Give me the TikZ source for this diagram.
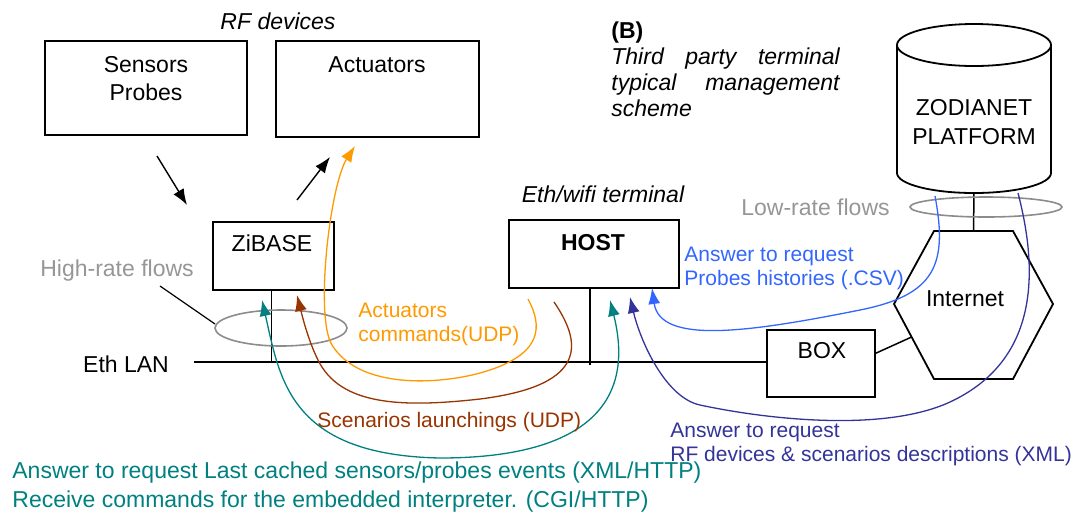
\documentclass[tikz,border=0pt]{standalone}
\usepackage{fontspec}
\setmainfont{Liberation Sans}
\usepackage{tikz}
\usetikzlibrary{arrows.meta}
\usetikzlibrary{positioning}
\usetikzlibrary{calc}
\definecolor{flowgrey}{HTML}{969696}
\definecolor{ringgrey}{HTML}{8C8C8C}
\definecolor{actorange}{HTML}{FF9900}
\definecolor{scenbrown}{HTML}{993300}
\definecolor{httpteal}{HTML}{008080}
\definecolor{xmlnavy}{HTML}{333399}
\definecolor{csvblue}{HTML}{3366FF}
\tikzset{
	devbox/.style={draw=black, line width=0.9pt, inner sep=0pt},
	rfarrow/.style={draw=black, line width=0.7pt, ->},
	lanline/.style={draw=black, line width=0.75pt},
	ringline/.style={draw=ringgrey, line width=0.8pt},
	flowline/.style={line width=0.65pt},
	flowlabel/.style={anchor=west, align=left, inner sep=0pt,
		font=\fontsize{10.5}{11.75}\selectfont},
	greytext/.style={text=flowgrey},
}

\begin{document}
\begin{tikzpicture}[x=0.5pt, y=-0.5pt, >={Latex[length=8pt,width=6pt]},
	font=\fontsize{11.5}{14}\selectfont]
	\useasboundingbox (0,0) rectangle (1076,516);
	% RF devices
	\node (rf) at (278,21) {\itshape RF devices};
	\node[devbox, minimum width=101pt, minimum height=47pt] (sensors) at (146,88) {};
	\node[devbox, minimum width=101.5pt, minimum height=48pt] (actuators) at (377.5,89) {};
	\node[align=center] (sensorsTxt) at (146,79) {Sensors\\Probes};
	\node (actuatorsTxt) at (377,65) {Actuators};
	\node[devbox, minimum width=60.5pt, minimum height=34pt] (zibase) at (273.5,256) {};
	\node (zibaseTxt) at (272,243) {ZiBASE};
	\node (ethwifi) at (603,194) {\itshape Eth/wifi terminal};
	\node[devbox, minimum width=85pt, minimum height=34pt] (host) at (594,254) {};
	\node (hostTxt) at (593,243) {\bfseries HOST};
	\node[devbox, minimum width=54pt, minimum height=33.5pt] (box) at (821,363.5) {};
	\node (boxTxt) at (822,351) {BOX};
	\node[anchor=west, inner sep=0pt, text width=114.5pt, align=left,
		font=\fontsize{11.5}{13}\selectfont] (scheme) at (611,69)
		{\textbf{(B)}\\ \textit{Third\hfill party\hfill terminal}\\
		\textit{typical\hfill management}\\ \textit{scheme}};

	\coordinate (sensOut) at (157,156);
	\coordinate (zibIn) at (187,205);
	\coordinate (zibOut) at (297,200);
	\coordinate (actIn) at (330,157);
	\draw[rfarrow] (sensOut) -- (zibIn);
	\draw[rfarrow] (zibOut) -- (actIn);

	\coordinate (lanL) at (194,362);
	\node (ethlan) at (126,364) {Eth LAN};
	\draw[lanline] (lanL) -- (lanL -| box.west);
	\draw[lanline] ($(zibase.south)+(-2,0)$) -- ($(zibase.south |- lanL)+(-2,0)$);
	\draw[lanline] ($(host.south)+(-4,0)$) -- ($(host.south |- lanL)+(-4,3)$);

	\coordinate (cylTL) at (897,45);
	\coordinate (cylTR) at (1051,45);
	\coordinate (cylBL) at (897,173);
	\coordinate (cylBot) at (974,193);
	\draw[devbox] (974,45) ellipse [x radius=38.5pt, y radius=10.5pt];
	\draw[devbox] (cylTL) -- (cylBL) arc[start angle=180, end angle=360,
		x radius=38.5pt, y radius=10pt] -- (cylTR);
	\node[align=center, font=\fontsize{11.5}{14.5}\selectfont] (zodianet) at (974,122.5)
		{ZODIANET\\PLATFORM};

	\coordinate (hexT1) at (934,231);
	\coordinate (hexT2) at (1013,231);
	\coordinate (hexR) at (1053,304);
	\coordinate (hexB2) at (1013,379);
	\coordinate (hexB1) at (934,379);
	\coordinate (hexL) at (894,304);
	\draw[devbox] (hexT1) -- (hexT2) -- (hexR) -- (hexB2) -- (hexB1) -- (hexL) -- cycle;
	\node (internet) at (965,299) {Internet};
	\draw[lanline] (cylBot) -- ($(hexT1)!0.5!(hexT2)$);
	\draw[lanline] ($(box.north east)!0.35!(box.south east)$) -- ($(hexL)!0.44!(hexB1)$);

	\coordinate (highTag) at (160,286);
	\coordinate (highRing) at (215,324);
	\draw[ringline] (281,328) ellipse [x radius=33pt, y radius=9pt];
	\node[greytext] (highrate) at (117,271) {High-rate flows};
	\draw[lanline, line width=0.6pt] (highTag) -- (highRing);
	\draw[ringline] (986,207) ellipse [x radius=38pt, y radius=5pt];
	\node[greytext] (lowrate) at (815.5,207) {Low-rate flows};

	\coordinate (actStart) at (528,299);
	\coordinate (actTip) at (355,146);
	\draw[flowline, actorange, ->] (actStart) .. controls (542,325) and (545,355) .. (480,373)
		.. controls (440,384) and (360,390) .. (332,345)
		.. controls (314.6,317) and (330,185) .. (actTip);
	\coordinate (scenStart) at (554,302);
	\coordinate (scenTip) at (297,295);
	\draw[flowline, scenbrown, ->] (scenStart) .. controls (580,340) and (592,385) .. (480,399)
		.. controls (400,408) and (340,405) .. (318,360)
		.. controls (308,340) and (302,315) .. (scenTip);
	\coordinate (httpZib) at (262,300);
	\coordinate (httpHost) at (610,300);
	\draw[flowline, httpteal, <->] (httpZib) .. controls (280,380) and (290,455) .. (440,458)
		.. controls (560,458) and (640,420) .. (httpHost);
	\coordinate (xmlPlat) at (1018,193);
	\coordinate (xmlHost) at (630,297);
	\draw[flowline, xmlnavy, ->] (xmlPlat) .. controls (1038,270) and (1040,360) .. (950,402)
		.. controls (885,432) and (770,420) .. (700,405)
		.. controls (665,397.5) and (640,340) .. (xmlHost);
	\coordinate (csvPlat) at (935,196);
	\coordinate (csvHost) at (652,288);
	\draw[flowline, csvblue, ->] (csvPlat) .. controls (948,265) and (935,295) .. (860,310)
		.. controls (750,332) and (660,345) .. (csvHost);

	\node[flowlabel, text=csvblue] (csvTxt) at (684,268.5)
		{Answer to request\\Probes histories (.CSV)};
	\node[flowlabel, text=xmlnavy, font=\fontsize{10.5}{12}\selectfont] (xmlTxt) at (670,444)
		{Answer to request\\RF devices \& scenarios descriptions (XML)};
	\node[flowlabel, text=actorange] (actTxt) at (358,324.5) {Actuators\\commands(UDP)};
	\node[flowlabel, text=scenbrown] (scenTxt) at (317,422) {Scenarios launchings (UDP)};
	\node[flowlabel, text=httpteal, font=\fontsize{11.5}{14.5}\selectfont] (httpTxt) at (12,487.5)
		{Answer to request Last cached sensors/probes events (XML/HTTP)\\
		Receive commands for the embedded interpreter. (CGI/HTTP)};
\end{tikzpicture}
\end{document}
